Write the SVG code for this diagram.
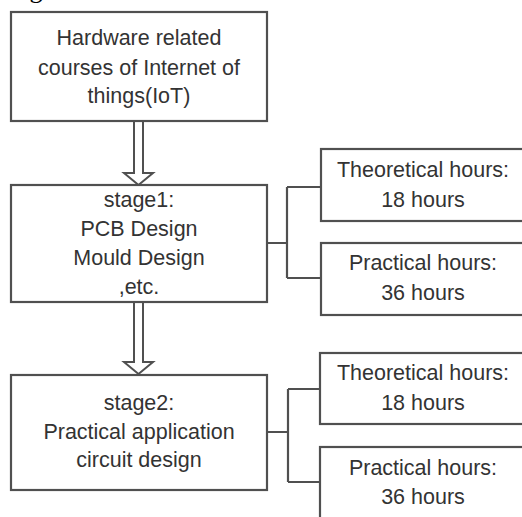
<svg xmlns="http://www.w3.org/2000/svg" width="522" height="517" viewBox="0 0 522 517">
<style>
.box{fill:#fff;stroke:#505050;stroke-width:2.2}
.c{fill:none;stroke:#505050;stroke-width:2.2}
.arr{fill:#fff;stroke:#505050;stroke-width:2}
text{font-family:"Liberation Sans",Arial,sans-serif;font-size:21.5px;fill:#333;text-anchor:middle}
</style>
<rect width="522" height="517" fill="#fff"/>
<text x="36" y="-2" style="font-family:'Liberation Serif',serif;font-size:26px;fill:#000;text-anchor:middle">g</text>
<g id="connectors">
<polygon class="arr" points="134,121 143,121 143,173 153,173 138.5,185 124,173 134,173"/>
<polygon class="arr" points="134,302 143,302 143,362 153,362 138.5,374 124,362 134,362"/>
<path class="c" d="M267,243 H287 M287,187 V278 M287,187 H321 M287,278 H321"/>
<path class="c" d="M267,432 H288 M288,389 V482 M288,389 H320 M288,482 H320"/>
</g>
<g id="top">
<rect class="box" x="11" y="12" width="256" height="109"/>
<text x="139" y="45">Hardware related</text>
<text x="139" y="75">courses of Internet of</text>
<text x="139" y="103">things(IoT)</text>
</g>
<g id="stage1">
<rect class="box" x="11" y="185" width="256" height="117"/>
<text x="139" y="207">stage1:</text>
<text x="139" y="236">PCB Design</text>
<text x="139" y="265">Mould Design</text>
<text x="139" y="294">,etc.</text>
</g>
<g id="s1theo">
<rect class="box" x="321" y="149" width="206" height="72"/>
<text x="423" y="177">Theoretical hours:</text>
<text x="423" y="207">18 hours</text>
</g>
<g id="s1prac">
<rect class="box" x="321" y="243" width="206" height="72"/>
<text x="423" y="270">Practical hours:</text>
<text x="423" y="300">36 hours</text>
</g>
<g id="stage2">
<rect class="box" x="11" y="375" width="256" height="115"/>
<text x="139" y="410">stage2:</text>
<text x="139" y="439">Practical application</text>
<text x="139" y="467">circuit design</text>
</g>
<g id="s2theo">
<rect class="box" x="320" y="353" width="207" height="71"/>
<text x="423" y="380">Theoretical hours:</text>
<text x="423" y="410">18 hours</text>
</g>
<g id="s2prac">
<rect class="box" x="320" y="447" width="207" height="80"/>
<text x="423" y="475">Practical hours:</text>
<text x="423" y="504">36 hours</text>
</g>
</svg>
